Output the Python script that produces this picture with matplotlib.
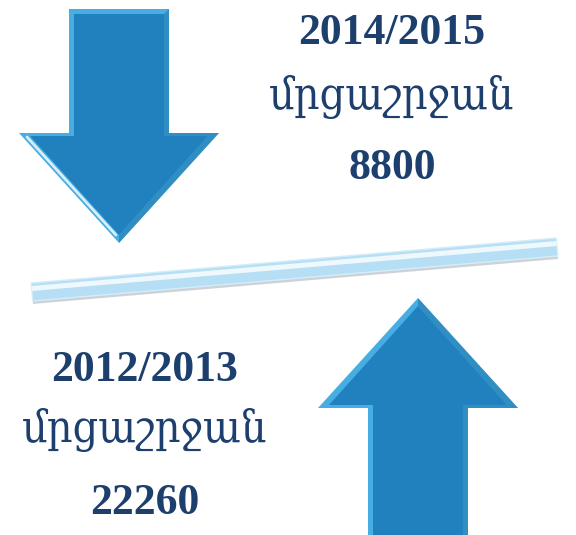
import numpy as np
import matplotlib.pyplot as plt
from matplotlib.patches import Polygon

# data
seasons = ['2014/2015', '2012/2013']
season_word = 'մրցաշրջան'
values = [8800, 22260]
directions = ['down', 'up']

# layout (pixel space, y grows downward)
W, H = 576, 535
arrow_tips = [(119, 243), (418, 298)]
shaft_half = 50
head_half = 100
head_len = 110
shaft_len = [124, 140]
text_x = [392, 145]
text_y = [[33, 97, 168], [370, 430, 503]]

txt_color = '#1c3f6e'
arrow_light = '#46aee3'
arrow_main = '#2181be'
arrow_dark = '#17679c'

fig = plt.figure(figsize=(W / 100, H / 100), dpi=100)
ax = fig.add_axes([0, 0, 1, 1])
ax.set_xlim(0, W)
ax.set_ylim(H, 0)
ax.axis('off')


def arrow_pts(tip, sgn, shaft, inset=0.0):
    # sgn = +1 means arrow points down (tip below), -1 up
    tx, ty = tip
    sh = shaft_half - inset
    hh = head_half - inset * 2.2
    hl = head_len - inset * 2.2
    ty2 = ty - sgn * inset * 1.6
    base = ty2 - sgn * hl
    end = ty - sgn * (head_len + shaft) + sgn * inset
    return np.array([
        [tx, ty2],
        [tx - hh, base],
        [tx - sh, base],
        [tx - sh, end],
        [tx + sh, end],
        [tx + sh, base],
        [tx + hh, base],
    ])


for tip, d, sl in zip(arrow_tips, directions, shaft_len):
    sgn = 1 if d == 'down' else -1
    outer = arrow_pts(tip, sgn, sl)
    inner = arrow_pts(tip, sgn, sl, 5)
    ax.add_patch(Polygon(outer, closed=True, fc=arrow_light, ec='none', zorder=2))
    # darker right bevel
    right = np.array([outer[0], outer[6], outer[5], outer[4],
                      inner[4], inner[5], inner[6], inner[0]])
    ax.add_patch(Polygon(right, closed=True, fc=arrow_dark, ec='none', alpha=0.45, zorder=2))
    ax.add_patch(Polygon(inner, closed=True, fc=arrow_main, ec='none', zorder=3))
    if d == 'down':
        # white highlight on left head edge
        ax.plot([outer[1][0] + 8, outer[0][0] - 3], [outer[1][1] + 4, outer[0][1] - 8],
                color='white', lw=2, alpha=0.8, zorder=4, solid_capstyle='round')

# slanted bar
p0 = np.array([32, 292])
p1 = np.array([557, 247])
v = p1 - p0
n = np.array([-v[1], v[0]]) / np.hypot(*v)
if n[1] < 0:
    n = -n  # point downward
half_t = 9
shadow = np.array([p0 - n * half_t + n * 4, p1 - n * half_t + n * 4,
                   p1 + n * (half_t + 3), p0 + n * (half_t + 3)])
ax.add_patch(Polygon(shadow, closed=True, fc='#9aa7b0', ec='none', alpha=0.5, zorder=1))
bar = np.array([p0 - n * half_t, p1 - n * half_t, p1 + n * half_t, p0 + n * half_t])
ax.add_patch(Polygon(bar, closed=True, fc='#b6dff5', ec='#d4edf9', lw=1, zorder=2))
hl = np.array([p0 - n * (half_t - 3), p1 - n * (half_t - 3),
               p1 - n * 1, p0 - n * 1])
ax.add_patch(Polygon(hl, closed=True, fc='#eef8fd', ec='none', zorder=3))

# texts
for i in range(2):
    y0, y1, y2 = text_y[i]
    ax.text(text_x[i], y0, seasons[i], ha='center', va='center', fontsize=31.5,
            color=txt_color, family=['Liberation Serif', 'DejaVu Serif'],
            fontweight='bold', zorder=5)
    ax.text(text_x[i], y1, season_word, ha='center', va='center', fontsize=32,
            color=txt_color, family=['DejaVu Serif'], fontstretch='condensed',
            fontweight='normal', zorder=5)
    ax.text(text_x[i], y2, str(values[i]), ha='center', va='center', fontsize=31.5,
            color=txt_color, family=['Liberation Serif', 'DejaVu Serif'],
            fontweight='bold', zorder=5)

fig.savefig('out.png', dpi=100)
